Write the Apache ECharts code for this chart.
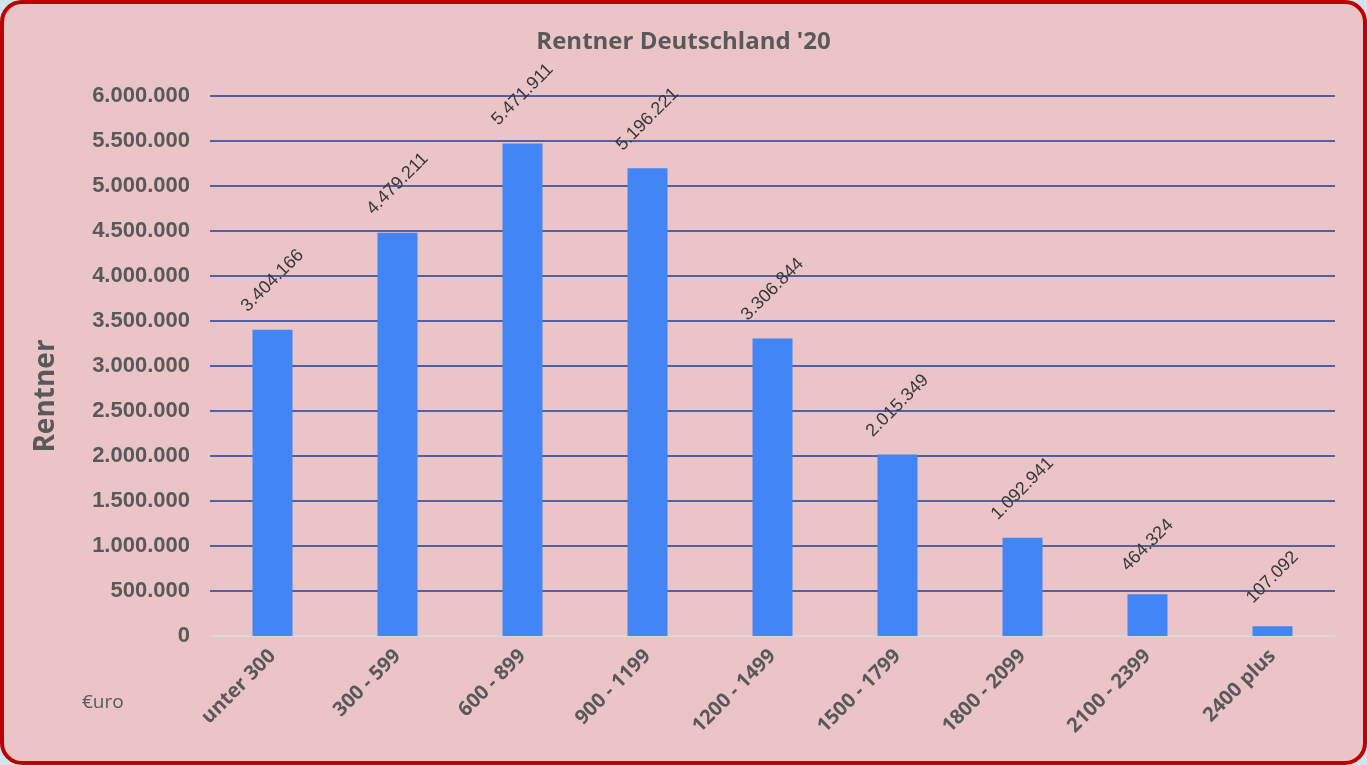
<!DOCTYPE html>
<html>
<head>
<meta charset="utf-8">
<title>Rentner Deutschland '20</title>
<script src="https://cdn.jsdelivr.net/npm/echarts@6/dist/echarts.min.js"></script>
<style>
  html, body { margin: 0; padding: 0; background: #cfe6ee; }
  .frame {
    position: absolute; left: 0; top: 0;
    width: 1359px; height: 757px;
    border: 4px solid #c00000;
    border-radius: 22px;
    background: #ebc4c7;
    overflow: hidden;
  }
  #chart { position: absolute; left: -4px; top: -4px; width: 1367px; height: 765px; }
</style>
</head>
<body>
<div class="frame"><div id="chart"></div></div>
<script>
  // Rentenhoehe in Euro
  const categories = ['unter 300', '300 - 599', '600 - 899', '900 - 1199', '1200 - 1499',
    '1500 - 1799', '1800 - 2099', '2100 - 2399', '2400 plus'];
  // Anzahl Rentner
  const rentner = [3404166, 4479211, 5471911, 5196221, 3306844, 2015349, 1092941, 464324, 107092];

  // 1234567 -> 1.234.567
  function de(n) {
    return String(Math.round(n)).replace(/\B(?=(\d{3})+(?!\d))/g, '.');
  }

  const chart = echarts.init(document.getElementById('chart'));
  chart.setOption({
    backgroundColor: 'transparent',
    title: {
      text: "Rentner Deutschland '20",
      left: 'center',
      top: 25,
      textStyle: { fontFamily: '"Open Sans"', fontWeight: 'bold', fontSize: 24, color: '#595959' }
    },
    graphic: [{
      type: 'text',
      left: 82,
      top: 693,
      style: { text: '€uro', font: '19px "Open Sans"', fill: '#595959' }
    }, {
      // Achsentitel
      type: 'text',
      x: 46,
      y: 396,
      rotation: Math.PI / 2,
      style: {
        text: 'Rentner',
        font: 'bold 28px "Open Sans"',
        fill: '#595959',
        align: 'center',
        verticalAlign: 'middle'
      }
    }],
    grid: { left: 210, right: 32, top: 96, bottom: 129 },
    xAxis: {
      type: 'category',
      data: categories,
      axisLine: { lineStyle: { color: '#d9d9d9', width: 2 } },
      axisTick: { show: false },
      axisLabel: {
        rotate: 45,
        margin: 17,
        fontFamily: '"Open Sans"',
        fontWeight: 'bold',
        fontSize: 20,
        color: '#595959'
      }
    },
    yAxis: {
      type: 'value',
      min: 0,
      max: 6000000,
      interval: 500000,
      axisLine: { show: false },
      axisTick: { show: false },
      splitLine: { lineStyle: { color: '#1f3f9a', width: 1.5 } },
      axisLabel: {
        margin: 20,
        formatter: de,
        fontFamily: 'Liberation Sans',
        fontWeight: 'bold',
        fontSize: 22,
        color: '#595959'
      }
    },
    series: [{
      type: 'bar',
      data: rentner,
      barWidth: 40,
      itemStyle: { color: '#4285f4' },
      label: {
        show: true,
        position: 'top',
        distance: 49,
        rotate: 45,
        align: 'center',
        verticalAlign: 'middle',
        formatter: p => de(p.value),
        fontFamily: 'Liberation Sans',
        fontSize: 18,
        color: '#383838'
      }
    }]
  });
</script>
</body>
</html>
